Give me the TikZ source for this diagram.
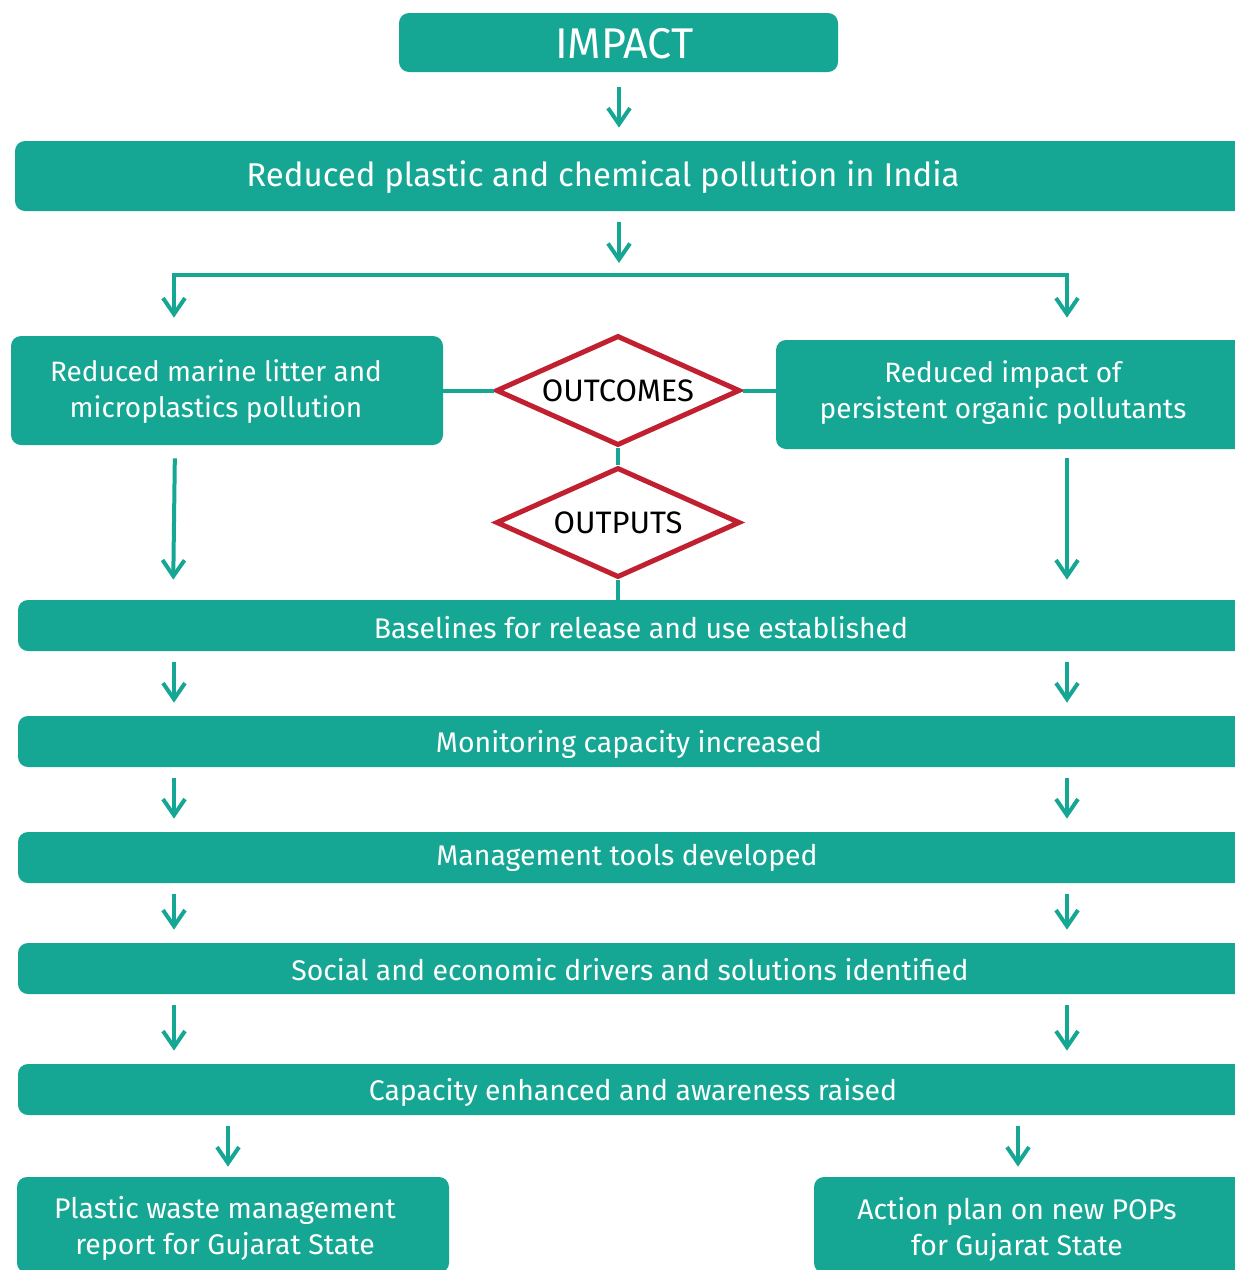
\documentclass[tikz,border=0pt]{standalone}
\usepackage{fontspec}
\setmainfont{Fira Sans}
\usetikzlibrary{arrows.meta,shapes.geometric,calc}
\definecolor{tealA}{HTML}{16A794}
\definecolor{redA}{HTML}{C0202F}
\begin{document}
\begin{tikzpicture}[x=0.5pt,y=-0.5pt,
  box/.style={fill=tealA, rounded corners=5pt, draw=none, inner sep=0pt},
  txt/.style={text=white, align=center, inner sep=0pt, font=\fontsize{14.2}{18}\selectfont},
  arr/.style={draw=tealA, line width=2pt, -{Straight Barb[length=8pt,width=11pt]}},
  arrboth/.style={draw=tealA, line width=2pt, {Straight Barb[length=8pt,width=11pt]}-{Straight Barb[length=8pt,width=11pt]}},
  conn/.style={draw=tealA, line width=2pt},
  dia/.style={diamond, aspect=2.216, draw=redA, line width=2.5pt, fill=white, minimum width=122pt, minimum height=55pt, inner sep=0pt, text=black, font=\fontsize{15.5}{18}\selectfont},
]
\useasboundingbox (0,0) rectangle (1235,1270);
\clip (0,0) rectangle (1235,1270);
\fill[white] (0,0) rectangle (1235,1270);
% columns
\coordinate (colL) at (174,0);
\coordinate (colR) at (1067,0);
\coordinate (split) at (619,275);
% boxes
\node[box, minimum width=219.5pt, minimum height=29.5pt] (imp) at (618.5,42.5) {};
\node[box, minimum width=620pt, minimum height=35pt] (red) at (635,176) {};
\node[box, minimum width=216pt, minimum height=54.5pt] (outL) at (227,390.5) {};
\node[box, minimum width=239.5pt, minimum height=54.5pt] (outR) at (1015.5,394.5) {};
\node[box, minimum width=618.5pt, minimum height=25.5pt] (b1) at (636.5,625.5) {};
\node[box, minimum width=618.5pt, minimum height=25.5pt] (b2) at (636.5,741.5) {};
\node[box, minimum width=618.5pt, minimum height=25.5pt] (b3) at (636.5,857.5) {};
\node[box, minimum width=618.5pt, minimum height=25.5pt] (b4) at (636.5,968.5) {};
\node[box, minimum width=618.5pt, minimum height=25.5pt] (b5) at (636.5,1089.5) {};
\node[box, minimum width=216pt, minimum height=48pt] (pl) at (233,1225) {};
\node[box, minimum width=220.5pt, minimum height=48pt] (pr) at (1034.5,1225) {};
% texts
\node[txt, font=\fontsize{21.5}{24}\selectfont] (timp) at (624.5,44) {IMPACT};
\node[txt, font=\fontsize{16.5}{20}\selectfont] (tred) at (603,177) {Reduced plastic and chemical pollution in India};
\node[txt, font=\fontsize{14}{18}\selectfont] (toutL) at (216,392) {Reduced marine litter and\\microplastics pollution};
\node[txt, font=\fontsize{14}{18}\selectfont] (toutR) at (1003,393) {Reduced impact of\\persistent organic pollutants};
\node[txt] (tb1) at (641,628) {Baselines for release and use established};
\node[txt] (tb2) at (629,744) {Monitoring capacity increased};
\node[txt] (tb3) at (627,858) {Management tools developed};
\node[txt] (tb4) at (630,970) {Social and economic drivers and solutions identified};
\node[txt] (tb5) at (633,1092) {Capacity enhanced and awareness raised};
\node[txt] (tpl) at (225,1228) {Plastic waste management\\report for Gujarat State};
\node[txt] (tpr) at (1017,1229) {Action plan on new POPs\\for Gujarat State};
% diamonds
\node[dia] (dOut) at (618,390.5) {OUTCOMES};
\node[dia] (dOutp) at (618,522.5) {OUTPUTS};
% connectors
\draw[arr, shorten <=7.5pt, shorten >=6.5pt] (imp.south -| split) -- (red.north -| split);
\draw[arr, shorten <=5.5pt, shorten >=6pt] (red.south -| split) -- (split);
\draw[arrboth] ([yshift=9pt]outL.north -| colL) |- (split) -| ([yshift=11pt]outR.north -| colR);
\draw[conn] (outL.east) -- (dOut.west);
\draw[conn] (dOut.east) -- (dOut.east -| outR.west);
\draw[conn] (dOut.south) -- (dOutp.north);
\draw[conn] (dOutp.south) -- (dOutp.south |- b1.north);
\draw[arr, shorten <=6.5pt, shorten >=10pt] (outL.south -| 175,0) -- (b1.north -| 173,0);
\draw[arr, shorten <=4.5pt, shorten >=10pt] (outR.south -| colR) -- (b1.north -| colR);
\foreach \a/\b in {b1/b2,b2/b3,b3/b4,b4/b5}{
  \draw[arr, shorten <=5.5pt, shorten >=6.5pt] (\a.south -| colL) -- (\b.north -| colL);
  \draw[arr, shorten <=5.5pt, shorten >=6.5pt] (\a.south -| colR) -- (\b.north -| colR);
}
\draw[arr, shorten <=5.5pt, shorten >=5pt] (b5.south -| 228,0) -- (pl.north -| 228,0);
\draw[arr, shorten <=5.5pt, shorten >=5pt] (b5.south -| 1018,0) -- (pr.north -| 1018,0);
\end{tikzpicture}
\end{document}
